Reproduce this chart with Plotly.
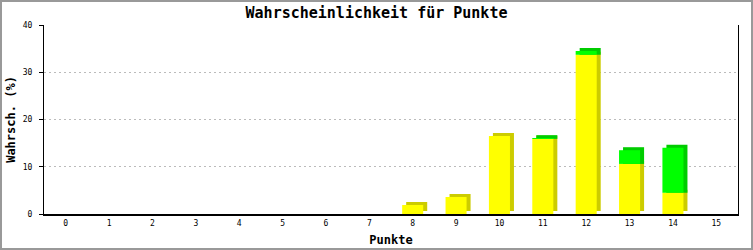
import plotly.graph_objects as go

categories = list(range(16))
yellow = [0, 0, 0, 0, 0, 0, 0, 0, 1.9, 3.6, 16.5, 15.9, 33.7, 10.6, 4.5, 0]
green = [0, 0, 0, 0, 0, 0, 0, 0, 0, 0, 0, 0.15, 0.8, 2.9, 9.5, 0]
y_ticks = [0, 10, 20, 30, 40]

W, H = 753, 250
L, R, T, B = 44, 15, 25, 36
pw, ph = W - L - R, H - T - B
xr = (-0.5, 15.5)
yr = (0, 40)
dx = 4 * (xr[1] - xr[0]) / pw   # depth offset in data units
dy = 3 * (yr[1] - yr[0]) / ph
bw = 0.485

YEL, YEL_D = "#FFFF00", "#CCCC00"
GRN, GRN_D = "#00FF00", "#00CC00"

fig = go.Figure()
# 3D side/top faces
fig.add_trace(go.Bar(x=categories, y=[v if v > 0 else None for v in yellow],
                     base=[dy] * 16, width=bw, offset=-bw / 2 + dx,
                     marker=dict(color=YEL_D, line=dict(width=0)), hoverinfo="skip"))
fig.add_trace(go.Bar(x=categories, y=[g + dy if g > 0 else None for g in green],
                     base=yellow, width=bw, offset=-bw / 2 + dx,
                     marker=dict(color=GRN_D, line=dict(width=0)), hoverinfo="skip"))
# front faces
fig.add_trace(go.Bar(x=categories, y=[v if v > 0 else None for v in yellow],
                     base=[0] * 16, width=bw, offset=-bw / 2,
                     marker=dict(color=YEL, line=dict(width=0))))
fig.add_trace(go.Bar(x=categories, y=[g if g > 0 else None for g in green],
                     base=yellow, width=bw, offset=-bw / 2,
                     marker=dict(color=GRN, line=dict(width=0))))

mono = "DejaVu Sans Mono"
fig.update_layout(
    width=W, height=H, autosize=False, barmode="overlay", showlegend=False,
    margin=dict(l=L, r=R, t=T, b=B, pad=0, autoexpand=False),
    paper_bgcolor="white", plot_bgcolor="white",
    title=dict(text="<b>Wahrscheinlichkeit für Punkte</b>", x=0.5, xanchor="center",
               y=1 - 13 / H, yanchor="middle", font=dict(family=mono, size=15, color="black")),
    xaxis=dict(range=list(xr), tickmode="array", tickvals=categories, automargin=False,
               ticktext=[str(c) for c in categories], showgrid=False, zeroline=False,
               showline=True, linecolor="black", linewidth=2, ticks="",
               tickfont=dict(family=mono, size=8, color="black"),
               title=dict(text="<b>Punkte</b>", font=dict(family=mono, size=12, color="black"),
                          standoff=9)),
    yaxis=dict(range=list(yr), tickmode="array", tickvals=y_ticks, automargin=False,
               showgrid=True, gridcolor="#BBBBBB", griddash="2px,3px", gridwidth=1,
               zeroline=False, showline=True, linecolor="black", linewidth=1, mirror=True,
               ticks="outside", ticklen=4, tickcolor="black", ticklabelstandoff=5,
               tickfont=dict(family=mono, size=8, color="black"),
               title=dict(text="<b>Wahrsch. (%)</b>", font=dict(family=mono, size=12, color="black"),
                          standoff=4)),
    shapes=[dict(type="rect", xref="paper", yref="paper",
                 x0=-(L - 1) / pw, x1=1 + (R - 1) / pw, y0=-(B - 1) / ph, y1=1 + (T - 1) / ph,
                 line=dict(color="#999999", width=2), layer="above")],
)

fig.write_html("out.html")
